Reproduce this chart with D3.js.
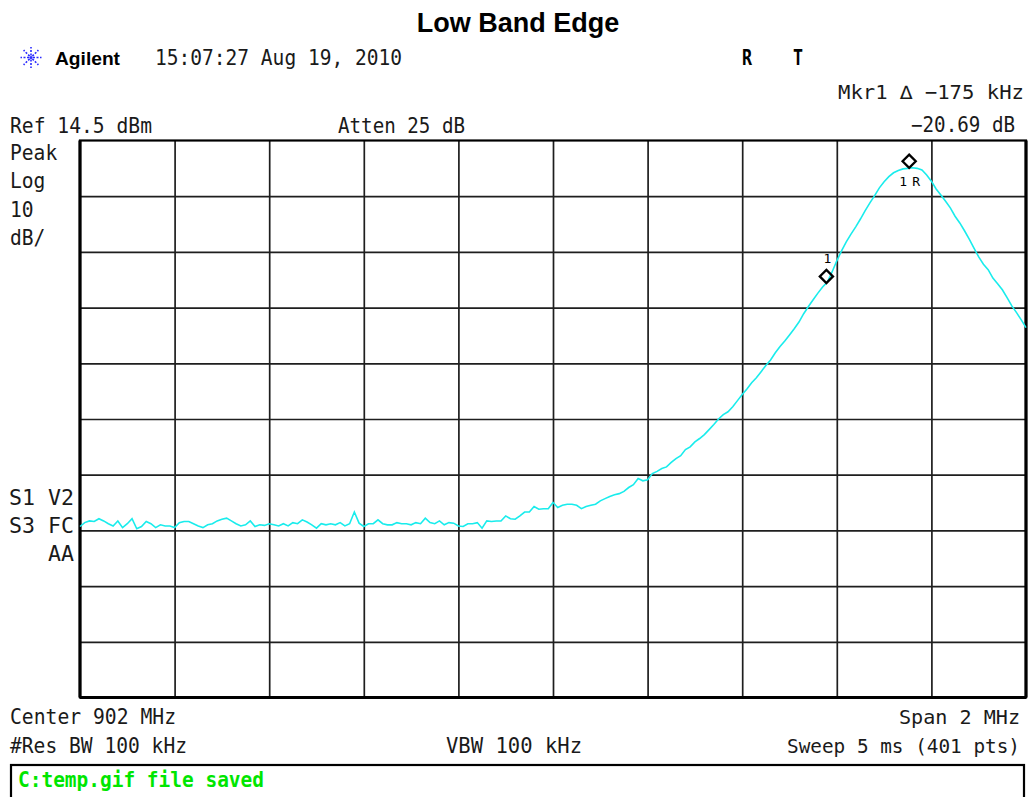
<!DOCTYPE html>
<html>
<head>
<meta charset="utf-8">
<script src="https://cdn.jsdelivr.net/npm/d3@7"></script>
<style>
  body { margin: 0; background: #fff; }
  .mono { font-family: "DejaVu Sans Mono", monospace; font-size: 20.5px; fill: #1a1a1a; }
</style>
</head>
<body>
<div id="my_dataviz"></div>
<script>
// analyzer settings
var centerMHz = 902, spanMHz = 2, refLevel = 14.5, dbPerDiv = 10, divisions = 10

// trace levels in dBm, one per 10 kHz from 901 MHz to 903 MHz
var levels = [
  -54.8,-54.1,-53.8,-53.9,-53.4,-53.8,-54.3,-54.7,-53.8,-55.0,
  -54.3,-53.4,-55.2,-54.8,-53.9,-54.3,-55.0,-54.5,-54.7,-54.7,
  -55.0,-54.1,-53.9,-53.9,-54.3,-54.7,-55.0,-54.5,-54.3,-53.8,
  -53.5,-53.3,-53.8,-54.3,-54.7,-54.5,-53.8,-54.8,-54.5,-54.6,
  -54.3,-54.5,-54.7,-54.3,-54.7,-54.1,-54.3,-53.6,-54.0,-54.5,
  -55.1,-54.3,-54.5,-54.3,-54.5,-54.1,-54.7,-54.3,-52.2,-54.2,
  -54.8,-54.3,-54.3,-53.6,-54.3,-54.5,-54.5,-54.1,-54.3,-54.3,
  -54.5,-54.1,-54.3,-53.3,-54.1,-54.3,-53.8,-54.5,-54.1,-54.2,
  -54.7,-54.8,-54.3,-54.3,-54.1,-55.1,-53.8,-53.9,-53.8,-53.8,
  -52.9,-53.4,-53.5,-52.9,-52.2,-52.2,-51.2,-51.7,-51.6,-51.6,
  -50.5,-51.4,-51.0,-50.8,-50.8,-51.0,-51.6,-51.2,-51.0,-50.8,
  -50.2,-49.8,-49.4,-49.1,-48.9,-48.5,-47.8,-47.3,-46.2,-46.6,
  -46.4,-45.3,-44.9,-44.4,-44.1,-43.3,-42.6,-42.1,-41.0,-40.5,
  -39.6,-39.0,-38.3,-37.4,-36.5,-35.5,-34.7,-34.2,-33.3,-32.2,
  -31.1,-30.1,-29.0,-28.1,-27.0,-25.9,-24.9,-23.6,-22.5,-21.5,
  -20.4,-19.3,-18.1,-16.6,-15.3,-14.1,-12.9,-11.8,-10.9,-9.1,
  -7.1,-5.3,-3.7,-2.3,-1.0,0.4,1.9,3.3,4.6,6.0,
  7.1,8.0,8.7,9.1,9.4,9.5,9.6,9.5,9.2,8.3,
  7.2,5.8,4.7,3.6,2.4,0.9,-0.3,-1.7,-3.2,-4.8,
  -6.4,-7.7,-8.7,-10.2,-11.2,-12.3,-13.7,-15.2,-16.4,-17.7,
  -19.1
]

// markers: 1R on the peak, 1 is the delta marker
var markerNames = ["1R", "1"]
var markerFreqs = [902.753, 902.578]
var markerLevels = [9.6, -11.09]

var leftLabels = ["Peak", "Log", "10", "dB/"]
var statusLabels = ["S1 V2", "S3 FC", "AA"]

var W = 1029, H = 797
var plot = {left: 80, right: 1026, top: 140.5, bottom: 697.5}

var svg = d3.select("#my_dataviz")
  .append("svg")
    .attr("width", W)
    .attr("height", H)

svg.append("rect").attr("width", W).attr("height", H).style("fill", "#fff")

var startF = centerMHz - spanMHz / 2
var x = d3.scaleLinear()
  .domain([startF, centerMHz + spanMHz / 2])
  .range([plot.left, plot.right])
var y = d3.scaleLinear()
  .domain([refLevel, refLevel - dbPerDiv * divisions])
  .range([plot.top, plot.bottom])

var step = spanMHz / (levels.length - 1)
var trace = levels.map(function(v, i) { return {f: startF + i * step, v: v} })

// grid, drawn with axes with no labels
var xTicks = d3.range(1, divisions).map(function(i) { return startF + i * spanMHz / divisions })
var yTicks = d3.range(1, divisions).map(function(i) { return refLevel - i * dbPerDiv })

svg.append("g")
  .attr("transform", "translate(0," + plot.bottom + ")")
  .call(d3.axisBottom(x).tickValues(xTicks).tickSize(-(plot.bottom - plot.top)).tickFormat(""))
  .call(function(g) { g.select(".domain").remove() })
svg.append("g")
  .attr("transform", "translate(" + plot.left + ",0)")
  .call(d3.axisLeft(y).tickValues(yTicks).tickSize(-(plot.right - plot.left)).tickFormat(""))
  .call(function(g) { g.select(".domain").remove() })
svg.selectAll(".tick line").attr("stroke", "#1e1e1e").attr("stroke-width", 1.7)

// frame
svg.append("rect")
  .attr("x", plot.left).attr("y", plot.top)
  .attr("width", plot.right - plot.left).attr("height", plot.bottom - plot.top)
  .style("fill", "none").style("stroke", "#000").style("stroke-width", 2.2)
svg.append("line").attr("x1", plot.left).attr("x2", plot.left).attr("y1", plot.top).attr("y2", plot.bottom)
  .style("stroke", "#000").style("stroke-width", 3.2)
svg.append("line").attr("x1", plot.right).attr("x2", plot.right).attr("y1", plot.top).attr("y2", plot.bottom)
  .style("stroke", "#000").style("stroke-width", 3.2)
svg.append("line").attr("x1", plot.left).attr("x2", plot.right).attr("y1", plot.bottom).attr("y2", plot.bottom)
  .style("stroke", "#000").style("stroke-width", 3.2)

// trace
svg.append("path")
  .datum(trace)
  .attr("d", d3.line().x(function(d) { return x(d.f) }).y(function(d) { return y(d.v) }))
  .style("fill", "none")
  .style("stroke", "#19ecec")
  .style("stroke-width", 1.6)

// markers: diamond sits on top of the trace point
var ds = 6.6
markerNames.forEach(function(name, i) {
  var mx = x(markerFreqs[i]), my = y(markerLevels[i]) - ds
  svg.append("path")
    .attr("d", "M" + mx + "," + (my - ds) + "L" + (mx + ds) + "," + my + "L" + mx + "," + (my + ds) + "L" + (mx - ds) + "," + my + "Z")
    .style("fill", "none").style("stroke", "#000").style("stroke-width", 2.3)
  svg.append("text")
    .attr("x", name == "1R" ? mx - 10 : mx - 3)
    .attr("y", name == "1R" ? my + ds + 18 : my - ds - 7)
    .style("font-family", "DejaVu Sans Mono, monospace")
    .style("font-size", "13px")
    .style("fill", "#000")
    .attr("textLength", name == "1R" ? 21 : 7)
    .attr("lengthAdjust", "spacing")
    .text(name)
})

// text helper, widths measured from the screen
function label(t, tx, ty, anchor, w, size) {
  var el = svg.append("text")
    .attr("class", "mono")
    .attr("x", tx).attr("y", ty)
    .attr("text-anchor", anchor || "start")
    .text(t)
  if (w) el.attr("textLength", w).attr("lengthAdjust", "spacingAndGlyphs")
  if (size) el.style("font-size", size + "px")
  return el
}

// title
svg.append("text")
  .attr("x", 518).attr("y", 32)
  .attr("text-anchor", "middle")
  .style("font-family", "Liberation Sans, Arial, sans-serif")
  .style("font-weight", "bold")
  .style("font-size", "27px")
  .style("fill", "#000")
  .text("Low Band Edge")

// Agilent logo: starburst
var logo = svg.append("g").attr("transform", "translate(31,57.5)")
d3.range(8).forEach(function(k) {
  var a = k * Math.PI / 4
  logo.append("line")
    .attr("x1", 2 * Math.cos(a)).attr("y1", 2 * Math.sin(a))
    .attr("x2", 10.5 * Math.cos(a)).attr("y2", 10.5 * Math.sin(a))
    .style("stroke", "#2a2aff").style("stroke-width", 1.6)
    .style("stroke-dasharray", "2,1.5")
})
logo.append("circle").attr("r", 1.6).style("fill", "#2a2aff")

svg.append("text")
  .attr("x", 55).attr("y", 65)
  .attr("textLength", 65).attr("lengthAdjust", "spacingAndGlyphs")
  .style("font-family", "Liberation Sans, Arial, sans-serif")
  .style("font-weight", "bold")
  .style("font-size", "19px")
  .style("fill", "#000")
  .text("Agilent")

label("15:07:27  Aug 19, 2010", 155, 65, "start", 247)
label("R", 742, 65, "start", 10).style("font-weight", "bold").style("fill", "#000")
label("T", 793, 65, "start", 10).style("font-weight", "bold").style("fill", "#000")

label("Mkr1 \u2206  \u2212175 kHz", 1024, 99, "end", 186, 19.2)
label("Ref 14.5 dBm", 10, 133, "start", 142)
label("Atten 25 dB", 338, 133, "start", 127)
label("\u221220.69 dB", 1015, 132, "end", 104)

leftLabels.forEach(function(t, i) {
  label(t, 10, 160 + i * 28.3, "start", t.length * 11.8)
})
statusLabels.forEach(function(t, i) {
  label(t, 74, 505 + i * 28, "end", t.length * 13)
})

label("Center 902 MHz", 10, 724, "start", 166)
label("Span 2 MHz", 1020, 724, "end", 121, 20)
label("#Res BW 100 kHz", 10, 753, "start", 177)
label("VBW 100 kHz", 446, 753, "start", 136)
label("Sweep 5 ms (401 pts)", 1020, 753, "end", 233, 19.2)

// status box
svg.append("rect")
  .attr("x", 11).attr("y", 765)
  .attr("width", 1013).attr("height", 40)
  .style("fill", "none").style("stroke", "#000").style("stroke-width", 2.2)
label("C:temp.gif file saved", 18, 787, "start", 246)
  .style("fill", "#00e600").style("font-weight", "bold")
</script>
</body>
</html>
